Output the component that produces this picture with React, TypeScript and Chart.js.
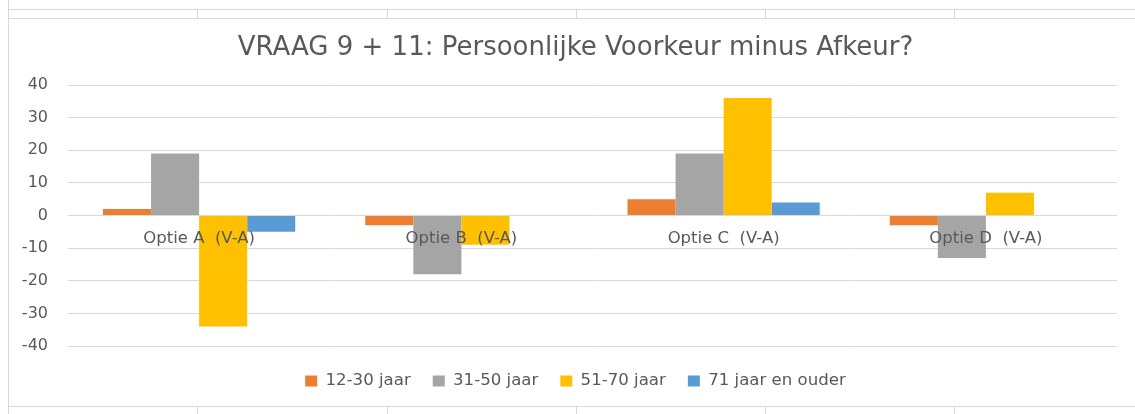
import React, { useEffect, useRef } from "react";
import { Chart, registerables } from "chart.js";

Chart.register(...registerables);

const categories = ["Optie A  (V-A)", "Optie B  (V-A)", "Optie C  (V-A)", "Optie D  (V-A)"];
const seriesNames = ["12-30 jaar", "31-50 jaar", "51-70 jaar", "71 jaar en ouder"];
const age12to30 = [2, -3, 5, -3];
const age31to50 = [19, -18, 19, -13];
const age51to70 = [-34, -9, 36, 7];
const age71plus = [-5, 0, 4, 0];
const seriesColors = ["#ED7D31", "#A5A5A5", "#FFC000", "#5B9BD5"];
const yTicks = [-40, -30, -20, -10, 0, 10, 20, 30, 40];
const titleText = "VRAAG 9 + 11: Persoonlijke Voorkeur minus Afkeur?";

const FONT = "'DejaVu Sans', sans-serif";
const TEXT = "#595959";
const LINE = "#D9D9D9";
const cellXs = [197, 387, 576, 765, 954];

export default function App() {
  const ref = useRef<HTMLCanvasElement | null>(null);

  useEffect(() => {
    if (!ref.current) return;
    const values = [age12to30, age31to50, age51to70, age71plus];
    const chart = new Chart(ref.current, {
      type: "bar",
      data: {
        labels: categories,
        datasets: seriesNames.map((name, i) => ({
          label: name,
          data: values[i],
          backgroundColor: seriesColors[i],
          borderWidth: 0,
          categoryPercentage: 0.733,
          barPercentage: 1,
          yAxisID: "y",
        })),
      },
      options: {
        animation: false,
        responsive: false,
        maintainAspectRatio: false,
        events: [],
        layout: { padding: { left: 13, right: 6, top: 0, bottom: 6.6 } },
        plugins: {
          title: {
            display: true,
            text: titleText,
            color: TEXT,
            font: { family: FONT, size: 26, weight: "normal" },
            padding: { top: 14, bottom: 20.8 },
          },
          legend: {
            display: true,
            position: "bottom",
            title: { display: true, text: "", padding: 0, font: { family: FONT, size: 4 } },
            labels: {
              color: TEXT,
              font: { family: FONT, size: 16.6 },
              boxWidth: 12,
              boxHeight: 11,
              padding: 22,
            },
          },
          tooltip: { enabled: false },
        },
        scales: {
          x: {
            type: "category",
            position: { y: 0 },
            offset: true,
            grid: { display: false, drawTicks: false },
            border: { display: false },
            afterFit: (axis: any) => {
              axis.paddingLeft = 0;
              axis.paddingRight = 0;
            },
            ticks: {
              z: 1,
              color: TEXT,
              font: { family: FONT, size: 16.5 },
              padding: 13,
              maxRotation: 0,
              autoSkip: false,
            },
          },
          y: {
            position: "left",
            min: -40,
            max: 40,
            afterBuildTicks: (axis: any) => {
              axis.ticks = yTicks.map((v) => ({ value: v }));
            },
            afterFit: (axis: any) => {
              axis.width = 46;
            },
            grid: { color: LINE, lineWidth: 1, drawTicks: false },
            border: { display: false },
            ticks: {
              color: TEXT,
              font: { family: FONT, size: 16 },
              padding: 20,
            },
          },
          y2: {
            position: "right",
            min: -40,
            max: 40,
            grid: { display: false, drawTicks: false },
            border: { display: false },
            ticks: { display: false },
            afterFit: (axis: any) => {
              axis.width = 12;
            },
          },
        },
      },
    });
    return () => chart.destroy();
  }, []);

  return (
    <div
      style={{
        position: "fixed",
        left: 0,
        top: 0,
        width: "100vw",
        height: "100vh",
        background: "#fff",
        overflow: "hidden",
      }}
    >
      <div style={{ position: "absolute", left: 8, top: 0, width: 1, height: 414, background: LINE }} />
      <div style={{ position: "absolute", left: 8, top: 9, width: 1200, height: 1, background: LINE }} />
      {cellXs.map((x) => (
        <div key={"t" + x} style={{ position: "absolute", left: x, top: 9, width: 1, height: 10, background: LINE }} />
      ))}
      {cellXs.map((x) => (
        <div key={"b" + x} style={{ position: "absolute", left: x, top: 406, width: 1, height: 10, background: LINE }} />
      ))}
      <div
        style={{
          position: "absolute",
          left: 8,
          top: 18,
          width: 1150,
          height: 389,
          boxSizing: "border-box",
          border: "1px solid " + LINE,
          background: "#fff",
          overflow: "hidden",
        }}
      >
        <canvas ref={ref} width={1126} height={387} style={{ display: "block", width: 1126, height: 387 }} />
      </div>
    </div>
  );
}
